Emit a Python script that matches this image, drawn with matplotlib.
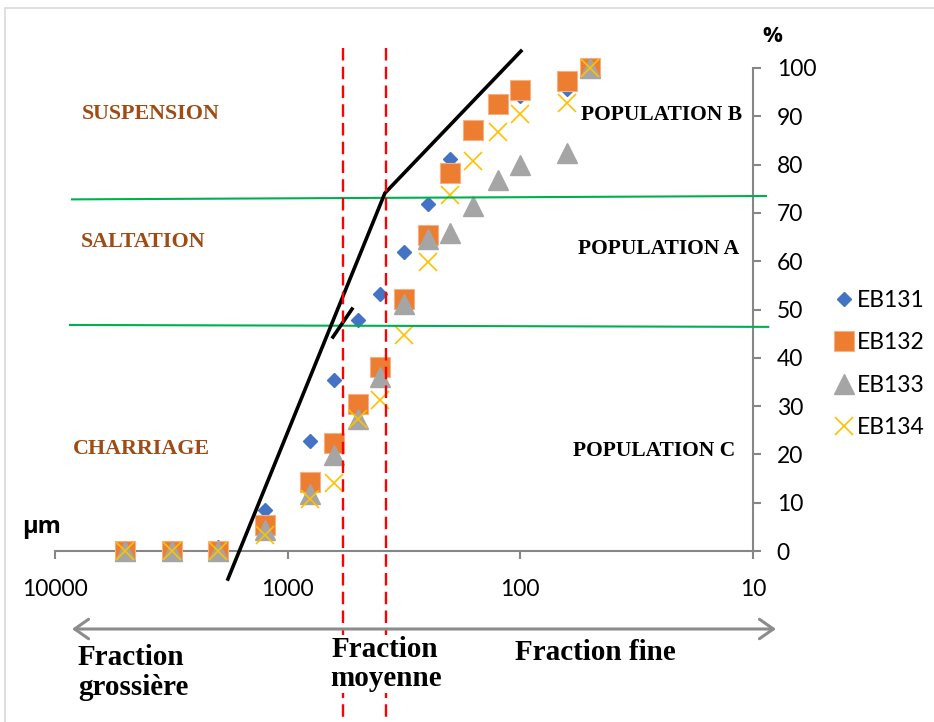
import matplotlib
matplotlib.use("Agg")
import matplotlib.pyplot as plt
from matplotlib.lines import Line2D
from matplotlib.ticker import NullLocator

plt.rcParams['lines.scale_dashes'] = False

W, H, DPI = 934, 722, 100

# ---------------- data ----------------
sizes_um = [5000, 3150, 2000, 1250, 800, 630, 500, 400, 315, 250, 200, 160, 125, 100, 63, 50]
eb131 = [0.0, 0.0, 0.9, 8.4, 22.8, 35.4, 47.8, 53.2, 61.9, 71.8, 81.2, 87.6, 92.1, 94.2, 95.6, 100]
eb132 = [0.0, 0.0, 0.0, 5.4, 14.3, 22.4, 30.4, 38.1, 52.2, 65.4, 78.3, 87.2, 92.5, 95.4, 97.3, 100]
eb133 = [0.0, 0.0, 0.0, 4.3, 11.8, 19.9, 27.3, 36.0, 51.1, 64.6, 65.8, 71.4, 76.8, 79.9, 82.4, 100]
eb134 = [0.0, 0.0, 0.0, 3.3, 10.8, 14.1, 27.3, 31.3, 44.7, 59.8, 73.7, 80.7, 86.7, 90.5, 92.8, 100]
series_names = ["EB131", "EB132", "EB133", "EB134"]

x_ticks = [10000, 1000, 100, 10]
x_tick_labels = ["10000", "1000", "100", "10"]
y_ticks = [0, 10, 20, 30, 40, 50, 60, 70, 80, 90, 100]

# interpretation lines (drawn shapes)
black_main_x = [1806, 382, 99.4]
black_main_y = [-5.8, 74.1, 103.5]
black_short_x = [639, 529]
black_short_y = [44.3, 50.1]
green_upper_x = [8450, 8.8]
green_upper_y = [72.8, 73.5]
green_lower_x = [8620, 8.6]
green_lower_y = [46.8, 46.4]
red_x = [579, 378]

# ---------------- figure ----------------
fig = plt.figure(figsize=(W / DPI, H / DPI), dpi=DPI)

def fx(px):
    return px / W

def fy(py):
    return 1 - py / H

ax = fig.add_axes([fx(55), fy(551), (753 - 55) / W, (551 - 68) / H])
ax.set_xscale('log')
ax.set_xlim(10000, 10)
ax.set_ylim(0, 100)

axis_gray = '#868686'
for s in ['left', 'top']:
    ax.spines[s].set_visible(False)
for s in ['right', 'bottom']:
    ax.spines[s].set_color(axis_gray)
    ax.spines[s].set_linewidth(1.5)

ax.yaxis.tick_right()
ax.set_yticks(y_ticks)
ax.set_yticklabels([str(v) for v in y_ticks])
ax.set_xticks(x_ticks)
ax.set_xticklabels(x_tick_labels)
ax.xaxis.set_minor_locator(NullLocator())
ax.tick_params(axis='y', direction='out', length=6, width=1.5, color=axis_gray,
               labelsize=16.5, pad=11, labelcolor='black')
ax.tick_params(axis='x', direction='out', length=6, width=1.5, color=axis_gray,
               labelsize=16.5, pad=14, labelcolor='black')
for lab in ax.get_xticklabels() + ax.get_yticklabels():
    lab.set_fontfamily('Lato')

# ---------------- series ----------------
h1, = ax.plot(sizes_um, eb131, linestyle='none', marker='D', ms=7.2,
              color='#4472C4', mec='#4472C4', clip_on=False, zorder=3, label=series_names[0])
h2, = ax.plot(sizes_um, eb132, linestyle='none', marker='s', ms=14,
              color='#ED7D31', mec='#F4B183', mew=0.8, clip_on=False, zorder=4, label=series_names[1])
h3, = ax.plot(sizes_um, eb133, linestyle='none', marker='^', ms=14,
              color='#A5A5A5', mec='#A5A5A5', clip_on=False, zorder=5, label=series_names[2])
h4, = ax.plot(sizes_um, eb134, linestyle='none', marker='x', ms=13.5, mew=1.2,
              color='#FFC000', clip_on=False, zorder=6, label=series_names[3])

# ---------------- interpretation shapes ----------------
ax.plot(green_upper_x, green_upper_y, color='#00B050', lw=1.5, clip_on=False, zorder=7)
ax.plot(green_lower_x, green_lower_y, color='#00B050', lw=1.5, clip_on=False, zorder=7)
ax.plot(black_main_x, black_main_y, color='black', lw=2.6, clip_on=False, zorder=8,
        solid_joinstyle='miter')
ax.plot(black_short_x, black_short_y, color='black', lw=2.6, clip_on=False, zorder=8)
for xv in red_x:
    ax.plot([xv, xv], [1.041, -0.36], transform=ax.get_xaxis_transform(),
            color='#FF0000', lw=1.7, dashes=(9, 4.5), clip_on=False, zorder=8)

# ---------------- legend ----------------
leg = ax.legend(handles=[h1, h2, h3, h4], loc='center left',
                bbox_to_anchor=(fx(835), fy(364)), bbox_transform=fig.transFigure,
                frameon=False, handlelength=0.8, handletextpad=0.15,
                labelspacing=0.92, borderpad=0, borderaxespad=0,
                prop={'family': 'Lato', 'size': 16.5})

# ---------------- texts ----------------
brown = '#9E4B14'
serif_b = dict(family='Liberation Serif', weight='bold')
fig.text(fx(151), fy(114), "SUSPENSION", ha='center', va='center', color=brown, size=15.8, **serif_b)
fig.text(fx(143), fy(242), "SALTATION", ha='center', va='center', color=brown, size=15.8, **serif_b)
fig.text(fx(141), fy(449), "CHARRIAGE", ha='center', va='center', color=brown, size=15.8, **serif_b)

fig.text(fx(662), fy(115), "POPULATION B", ha='center', va='center', color='black', size=15.5, **serif_b)
fig.text(fx(659), fy(249), "POPULATION A", ha='center', va='center', color='black', size=15.5, **serif_b)
fig.text(fx(654), fy(451), "POPULATION C", ha='center', va='center', color='black', size=15.5, **serif_b)

fig.text(fx(42), fy(527), "µm", ha='center', va='center', size=17, weight='bold',
         family=['Open Sans', 'DejaVu Sans'])
fig.text(fx(772), fy(37), "%", ha='center', va='center', size=16, weight='bold',
         family=['Open Sans', 'DejaVu Sans'])

white_box = dict(facecolor='white', edgecolor='none', pad=1)
fig.text(fx(78), fy(665), "Fraction", ha='left', va='baseline', size=21, **serif_b)
fig.text(fx(78), fy(695), "grossière", ha='left', va='baseline', size=21, **serif_b)
fig.text(fx(385), fy(657), "Fraction", ha='center', va='baseline', size=21, bbox=white_box,
         zorder=5, **serif_b)
fig.text(fx(386), fy(686), "moyenne", ha='center', va='baseline', size=21, bbox=white_box,
         zorder=5, **serif_b)
fig.text(fx(595), fy(660), "Fraction fine", ha='center', va='baseline', size=21, **serif_b)

# double arrow
fig.patches.append(matplotlib.patches.FancyArrowPatch(
    (fx(72), fy(629)), (fx(776), fy(629)), transform=fig.transFigure,
    arrowstyle='<->,head_length=1.0,head_width=0.7', mutation_scale=10,
    color='#8C8C8C', lw=2.2, shrinkA=0, shrinkB=0, zorder=6))

# chart-area border (left & top)
fig.add_artist(Line2D([fx(5), fx(5), fx(W + 5)], [fy(H + 5), fy(8), fy(8)],
                      transform=fig.transFigure, color='#D9D9D9', lw=1.2))

fig.savefig("out.png", dpi=DPI)
